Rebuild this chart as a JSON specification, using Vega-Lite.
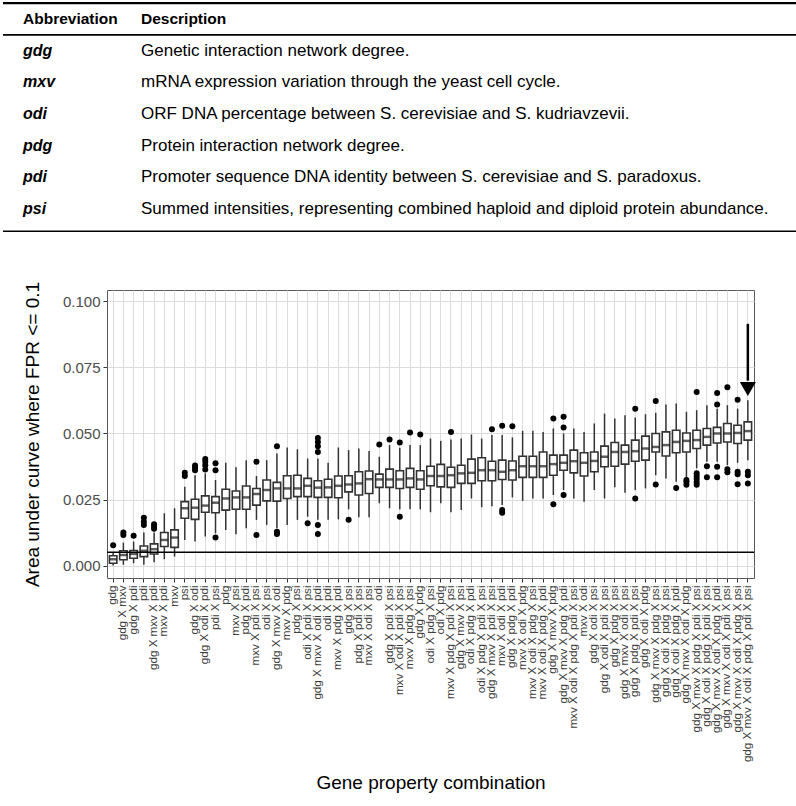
{
  "$schema": "https://vega.github.io/schema/vega-lite/v6.json",
  "padding": 0,
  "background": "white",
  "config": {
    "font": "Liberation Sans",
    "view": {"stroke": null},
    "axis": {"domain": false, "tickColor": "#333333", "labelColor": "#4d4d4d", "titleColor": "black", "titleFontWeight": "normal"}
  },
  "datasets": {
    "table": [
      {"row": "h", "a": "Abbreviation", "d": "Description"},
      {"row": "gdg", "a": "gdg", "d": "Genetic interaction network degree."},
      {"row": "mxv", "a": "mxv", "d": "mRNA expression variation through the yeast cell cycle."},
      {"row": "odi", "a": "odi", "d": "ORF DNA percentage between S. cerevisiae and S. kudriavzevii."},
      {"row": "pdg", "a": "pdg", "d": "Protein interaction network degree."},
      {"row": "pdi", "a": "pdi", "d": "Promoter sequence DNA identity between S. cerevisiae and S. paradoxus."},
      {"row": "psi", "a": "psi", "d": "Summed intensities, representing combined haploid and diploid protein abundance."}
    ],
    "stats": [
      {"c": "gdg", "lo": 0.0000, "q1": 0.0009, "md": 0.0024, "q3": 0.0037, "hi": 0.0049},
      {"c": "gdg X mxv", "lo": 0.0003, "q1": 0.0022, "md": 0.0040, "q3": 0.0056, "hi": 0.0087},
      {"c": "gdg X pdi", "lo": 0.0009, "q1": 0.0028, "md": 0.0044, "q3": 0.0057, "hi": 0.0091},
      {"c": "pdi", "lo": 0.0003, "q1": 0.0034, "md": 0.0056, "q3": 0.0074, "hi": 0.0125},
      {"c": "gdg X mxv X pdi", "lo": 0.0013, "q1": 0.0044, "md": 0.0062, "q3": 0.0082, "hi": 0.0125},
      {"c": "mxv X pdi", "lo": 0.0024, "q1": 0.0072, "md": 0.0097, "q3": 0.0125, "hi": 0.0198},
      {"c": "mxv", "lo": 0.0034, "q1": 0.0069, "md": 0.0106, "q3": 0.0135, "hi": 0.0217},
      {"c": "psi", "lo": 0.0097, "q1": 0.0179, "md": 0.0217, "q3": 0.0242, "hi": 0.0298},
      {"c": "gdg X odi", "lo": 0.0091, "q1": 0.0175, "md": 0.0219, "q3": 0.0251, "hi": 0.0342},
      {"c": "gdg X odi X pdi", "lo": 0.0110, "q1": 0.0202, "md": 0.0227, "q3": 0.0264, "hi": 0.0349},
      {"c": "pdi X psi", "lo": 0.0122, "q1": 0.0200, "md": 0.0238, "q3": 0.0261, "hi": 0.0324},
      {"c": "pdg", "lo": 0.0135, "q1": 0.0210, "md": 0.0254, "q3": 0.0289, "hi": 0.0389},
      {"c": "mxv X psi", "lo": 0.0119, "q1": 0.0213, "md": 0.0258, "q3": 0.0282, "hi": 0.0372},
      {"c": "pdg X pdi", "lo": 0.0141, "q1": 0.0213, "md": 0.0258, "q3": 0.0301, "hi": 0.0399},
      {"c": "mxv X pdi X psi", "lo": 0.0173, "q1": 0.0229, "md": 0.0271, "q3": 0.0292, "hi": 0.0339},
      {"c": "odi X psi", "lo": 0.0154, "q1": 0.0245, "md": 0.0286, "q3": 0.0324, "hi": 0.0399},
      {"c": "gdg X mxv X odi", "lo": 0.0141, "q1": 0.0244, "md": 0.0292, "q3": 0.0315, "hi": 0.0424},
      {"c": "mxv X pdg", "lo": 0.0154, "q1": 0.0254, "md": 0.0292, "q3": 0.0340, "hi": 0.0447},
      {"c": "pdg X psi", "lo": 0.0173, "q1": 0.0261, "md": 0.0292, "q3": 0.0342, "hi": 0.0440},
      {"c": "odi X pdi X psi", "lo": 0.0185, "q1": 0.0261, "md": 0.0302, "q3": 0.0330, "hi": 0.0405},
      {"c": "gdg X mxv X odi X pdi", "lo": 0.0173, "q1": 0.0258, "md": 0.0295, "q3": 0.0321, "hi": 0.0405},
      {"c": "odi X pdi", "lo": 0.0173, "q1": 0.0258, "md": 0.0296, "q3": 0.0327, "hi": 0.0389},
      {"c": "mxv X pdg X pdi", "lo": 0.0175, "q1": 0.0257, "md": 0.0302, "q3": 0.0339, "hi": 0.0447},
      {"c": "gdg X psi", "lo": 0.0213, "q1": 0.0279, "md": 0.0307, "q3": 0.0340, "hi": 0.0437},
      {"c": "pdg X pdi X psi", "lo": 0.0183, "q1": 0.0267, "md": 0.0311, "q3": 0.0355, "hi": 0.0443},
      {"c": "mxv X odi X psi", "lo": 0.0183, "q1": 0.0273, "md": 0.0327, "q3": 0.0358, "hi": 0.0434},
      {"c": "odi", "lo": 0.0236, "q1": 0.0296, "md": 0.0326, "q3": 0.0346, "hi": 0.0412},
      {"c": "gdg X pdi X psi", "lo": 0.0217, "q1": 0.0296, "md": 0.0326, "q3": 0.0365, "hi": 0.0456},
      {"c": "mxv X odi X pdi X psi", "lo": 0.0213, "q1": 0.0292, "md": 0.0326, "q3": 0.0359, "hi": 0.0446},
      {"c": "mxv X pdg X psi", "lo": 0.0213, "q1": 0.0296, "md": 0.0330, "q3": 0.0368, "hi": 0.0456},
      {"c": "gdg X pdg", "lo": 0.0213, "q1": 0.0289, "md": 0.0326, "q3": 0.0359, "hi": 0.0456},
      {"c": "odi X pdg X psi", "lo": 0.0202, "q1": 0.0302, "md": 0.0339, "q3": 0.0376, "hi": 0.0481},
      {"c": "odi X pdg", "lo": 0.0236, "q1": 0.0298, "md": 0.0339, "q3": 0.0383, "hi": 0.0472},
      {"c": "mxv X pdg X pdi X psi", "lo": 0.0202, "q1": 0.0296, "md": 0.0342, "q3": 0.0372, "hi": 0.0477},
      {"c": "gdg X mxv X psi", "lo": 0.0210, "q1": 0.0311, "md": 0.0349, "q3": 0.0380, "hi": 0.0481},
      {"c": "odi X pdg X pdi", "lo": 0.0254, "q1": 0.0311, "md": 0.0351, "q3": 0.0403, "hi": 0.0496},
      {"c": "odi X pdg X pdi X psi", "lo": 0.0221, "q1": 0.0321, "md": 0.0361, "q3": 0.0408, "hi": 0.0481},
      {"c": "gdg X mxv X pdi X psi", "lo": 0.0225, "q1": 0.0321, "md": 0.0361, "q3": 0.0395, "hi": 0.0494},
      {"c": "mxv X odi X pdi", "lo": 0.0229, "q1": 0.0326, "md": 0.0355, "q3": 0.0399, "hi": 0.0494},
      {"c": "gdg X pdg X pdi", "lo": 0.0258, "q1": 0.0324, "md": 0.0361, "q3": 0.0396, "hi": 0.0485},
      {"c": "mxv X odi X pdg", "lo": 0.0245, "q1": 0.0334, "md": 0.0376, "q3": 0.0414, "hi": 0.0510},
      {"c": "mxv X odi X pdg X psi", "lo": 0.0254, "q1": 0.0334, "md": 0.0376, "q3": 0.0414, "hi": 0.0510},
      {"c": "mxv X odi X pdg X pdi", "lo": 0.0254, "q1": 0.0334, "md": 0.0376, "q3": 0.0430, "hi": 0.0506},
      {"c": "gdg X mxv X pdg", "lo": 0.0267, "q1": 0.0342, "md": 0.0384, "q3": 0.0418, "hi": 0.0519},
      {"c": "gdg X mxv X pdg X pdi", "lo": 0.0286, "q1": 0.0361, "md": 0.0389, "q3": 0.0418, "hi": 0.0500},
      {"c": "mxv X odi X pdg X pdi X psi", "lo": 0.0254, "q1": 0.0351, "md": 0.0395, "q3": 0.0437, "hi": 0.0519},
      {"c": "mxv X odi", "lo": 0.0242, "q1": 0.0339, "md": 0.0389, "q3": 0.0427, "hi": 0.0506},
      {"c": "gdg X odi X psi", "lo": 0.0286, "q1": 0.0355, "md": 0.0396, "q3": 0.0430, "hi": 0.0538},
      {"c": "gdg X odi X pdi X psi", "lo": 0.0254, "q1": 0.0374, "md": 0.0412, "q3": 0.0452, "hi": 0.0575},
      {"c": "gdg X pdg X psi", "lo": 0.0296, "q1": 0.0376, "md": 0.0430, "q3": 0.0466, "hi": 0.0557},
      {"c": "gdg X mxv X odi X psi", "lo": 0.0276, "q1": 0.0384, "md": 0.0430, "q3": 0.0456, "hi": 0.0569},
      {"c": "gdg X pdg X pdi X psi", "lo": 0.0286, "q1": 0.0395, "md": 0.0433, "q3": 0.0475, "hi": 0.0560},
      {"c": "gdg X odi X pdg", "lo": 0.0292, "q1": 0.0399, "md": 0.0443, "q3": 0.0490, "hi": 0.0573},
      {"c": "gdg X mxv X pdg X psi", "lo": 0.0342, "q1": 0.0430, "md": 0.0449, "q3": 0.0500, "hi": 0.0578},
      {"c": "gdg X odi X pdg X psi", "lo": 0.0330, "q1": 0.0415, "md": 0.0456, "q3": 0.0506, "hi": 0.0610},
      {"c": "gdg X odi X pdg X pdi", "lo": 0.0317, "q1": 0.0427, "md": 0.0468, "q3": 0.0512, "hi": 0.0613},
      {"c": "gdg X mxv X odi X pdg", "lo": 0.0330, "q1": 0.0430, "md": 0.0472, "q3": 0.0502, "hi": 0.0582},
      {"c": "gdg X mxv X pdg X pdi X psi", "lo": 0.0368, "q1": 0.0443, "md": 0.0475, "q3": 0.0512, "hi": 0.0588},
      {"c": "gdg X odi X pdg X pdi X psi", "lo": 0.0393, "q1": 0.0456, "md": 0.0487, "q3": 0.0519, "hi": 0.0607},
      {"c": "gdg X mxv X odi X pdg X pdi", "lo": 0.0393, "q1": 0.0464, "md": 0.0500, "q3": 0.0523, "hi": 0.0594},
      {"c": "gdg X mxv X odi X pdi X psi", "lo": 0.0380, "q1": 0.0468, "md": 0.0500, "q3": 0.0538, "hi": 0.0607},
      {"c": "gdg X mxv X odi X pdg X psi", "lo": 0.0389, "q1": 0.0462, "md": 0.0502, "q3": 0.0531, "hi": 0.0594},
      {"c": "gdg X mxv X odi X pdg X pdi X psi", "lo": 0.0399, "q1": 0.0475, "md": 0.0509, "q3": 0.0544, "hi": 0.0626}
    ],
    "outliers": [
      {"c": "gdg", "v": 0.0077},
      {"c": "gdg X mxv", "v": 0.0125}, {"c": "gdg X mxv", "v": 0.0116},
      {"c": "gdg X pdi", "v": 0.0113},
      {"c": "pdi", "v": 0.0181}, {"c": "pdi", "v": 0.0166}, {"c": "pdi", "v": 0.0154},
      {"c": "gdg X mxv X pdi", "v": 0.0156}, {"c": "gdg X mxv X pdi", "v": 0.0147}, {"c": "gdg X mxv X pdi", "v": 0.0139},
      {"c": "psi", "v": 0.0351}, {"c": "psi", "v": 0.0339},
      {"c": "gdg X odi", "v": 0.0379}, {"c": "gdg X odi", "v": 0.0370}, {"c": "gdg X odi", "v": 0.0361},
      {"c": "gdg X odi X pdi", "v": 0.0403}, {"c": "gdg X odi X pdi", "v": 0.0393}, {"c": "gdg X odi X pdi", "v": 0.0380}, {"c": "gdg X odi X pdi", "v": 0.0364},
      {"c": "pdi X psi", "v": 0.0387}, {"c": "pdi X psi", "v": 0.0361}, {"c": "pdi X psi", "v": 0.0106},
      {"c": "mxv X pdi X psi", "v": 0.0393}, {"c": "mxv X pdi X psi", "v": 0.0116},
      {"c": "gdg X mxv X odi", "v": 0.0452}, {"c": "gdg X mxv X odi", "v": 0.0128}, {"c": "gdg X mxv X odi", "v": 0.0120},
      {"c": "odi X pdi X psi", "v": 0.0160},
      {"c": "gdg X mxv X odi X pdi", "v": 0.0483}, {"c": "gdg X mxv X odi X pdi", "v": 0.0468}, {"c": "gdg X mxv X odi X pdi", "v": 0.0452}, {"c": "gdg X mxv X odi X pdi", "v": 0.0430}, {"c": "gdg X mxv X odi X pdi", "v": 0.0154}, {"c": "gdg X mxv X odi X pdi", "v": 0.0120},
      {"c": "gdg X psi", "v": 0.0173},
      {"c": "odi", "v": 0.0458},
      {"c": "gdg X pdi X psi", "v": 0.0477},
      {"c": "mxv X odi X pdi X psi", "v": 0.0466}, {"c": "mxv X odi X pdi X psi", "v": 0.0185},
      {"c": "mxv X pdg X psi", "v": 0.0504},
      {"c": "gdg X pdg", "v": 0.0496},
      {"c": "mxv X pdg X pdi X psi", "v": 0.0506},
      {"c": "gdg X mxv X pdi X psi", "v": 0.0516},
      {"c": "mxv X odi X pdi", "v": 0.0529}, {"c": "mxv X odi X pdi", "v": 0.0210}, {"c": "mxv X odi X pdi", "v": 0.0200},
      {"c": "gdg X pdg X pdi", "v": 0.0527},
      {"c": "gdg X mxv X pdg", "v": 0.0557}, {"c": "gdg X mxv X pdg", "v": 0.0232},
      {"c": "gdg X mxv X pdg X pdi", "v": 0.0563}, {"c": "gdg X mxv X pdg X pdi", "v": 0.0523}, {"c": "gdg X mxv X pdg X pdi", "v": 0.0267},
      {"c": "gdg X pdg X pdi X psi", "v": 0.0594}, {"c": "gdg X pdg X pdi X psi", "v": 0.0254},
      {"c": "gdg X mxv X pdg X psi", "v": 0.0623}, {"c": "gdg X mxv X pdg X psi", "v": 0.0307},
      {"c": "gdg X odi X pdg X pdi", "v": 0.0294},
      {"c": "gdg X mxv X odi X pdg", "v": 0.0324}, {"c": "gdg X mxv X odi X pdg", "v": 0.0316}, {"c": "gdg X mxv X odi X pdg", "v": 0.0306},
      {"c": "gdg X mxv X pdg X pdi X psi", "v": 0.0657}, {"c": "gdg X mxv X pdg X pdi X psi", "v": 0.0349}, {"c": "gdg X mxv X pdg X pdi X psi", "v": 0.0339}, {"c": "gdg X mxv X pdg X pdi X psi", "v": 0.0329}, {"c": "gdg X mxv X pdg X pdi X psi", "v": 0.0316}, {"c": "gdg X mxv X pdg X pdi X psi", "v": 0.0306},
      {"c": "gdg X odi X pdg X pdi X psi", "v": 0.0376}, {"c": "gdg X odi X pdg X pdi X psi", "v": 0.0334},
      {"c": "gdg X mxv X odi X pdg X pdi", "v": 0.0653}, {"c": "gdg X mxv X odi X pdg X pdi", "v": 0.0610}, {"c": "gdg X mxv X odi X pdg X pdi", "v": 0.0374}, {"c": "gdg X mxv X odi X pdg X pdi", "v": 0.0334},
      {"c": "gdg X mxv X odi X pdi X psi", "v": 0.0675}, {"c": "gdg X mxv X odi X pdi X psi", "v": 0.0365}, {"c": "gdg X mxv X odi X pdi X psi", "v": 0.0353},
      {"c": "gdg X mxv X odi X pdg X psi", "v": 0.0628}, {"c": "gdg X mxv X odi X pdg X psi", "v": 0.0355}, {"c": "gdg X mxv X odi X pdg X psi", "v": 0.0346}, {"c": "gdg X mxv X odi X pdg X psi", "v": 0.0308},
      {"c": "gdg X mxv X odi X pdg X pdi X psi", "v": 0.0355}, {"c": "gdg X mxv X odi X pdg X pdi X psi", "v": 0.0342}, {"c": "gdg X mxv X odi X pdg X pdi X psi", "v": 0.0311}
    ],
    "arrow": [
      {"c": "gdg X mxv X odi X pdg X pdi X psi", "top": 0.0915, "base": 0.0700, "head": 0.0668}
    ]
  },
  "spacing": 48,
  "vconcat": [
    {
      "width": 796,
      "height": 228,
      "data": {"name": "table"},
      "transform": [{"fold": ["a", "d"], "as": ["col", "txt"]}],
      "encoding": {
        "x": {"field": "col", "type": "nominal", "scale": {"type": "point", "domain": ["a", "d"], "range": [20, 138], "padding": 0}, "axis": null},
        "y": {"field": "row", "type": "nominal", "scale": {"type": "band", "domain": ["h", "gdg", "mxv", "odi", "pdg", "pdi", "psi"], "paddingInner": 0, "paddingOuter": 0.1}, "axis": null},
        "text": {"field": "txt"}
      },
      "layer": [
        {"transform": [{"filter": "datum.row === 'h'"}], "mark": {"type": "text", "align": "left", "baseline": "middle", "fontWeight": "bold", "fontSize": 15.5, "color": "black"}},
        {"transform": [{"filter": "datum.row !== 'h' && datum.col === 'a'"}], "mark": {"type": "text", "align": "left", "baseline": "middle", "fontWeight": "bold", "fontStyle": "italic", "fontSize": 16, "color": "black"}},
        {"transform": [{"filter": "datum.row !== 'h' && datum.col === 'd'"}], "mark": {"type": "text", "align": "left", "baseline": "middle", "fontSize": 17, "color": "black"}},
        {"data": {"values": [{}]}, "transform": [], "mark": {"type": "rule", "color": "black", "strokeWidth": 2.2}, "encoding": {"x": null, "text": null, "y": {"datum": "h", "type": "nominal", "bandPosition": 0}}},
        {"data": {"values": [{}]}, "transform": [], "mark": {"type": "rule", "color": "black", "strokeWidth": 1.8}, "encoding": {"x": null, "text": null, "y": {"datum": "h", "type": "nominal", "bandPosition": 1}}},
        {"data": {"values": [{}]}, "transform": [], "mark": {"type": "rule", "color": "black", "strokeWidth": 1.5}, "encoding": {"x": null, "text": null, "y": {"datum": "psi", "type": "nominal", "bandPosition": 1.2}}}
      ]
    },
    {
      "spacing": 15,
      "hconcat": [
        {"width": 1, "height": 1, "data": {"values": [{}]}, "mark": {"type": "point", "opacity": 0}, "encoding": {}},
        {
          "width": 647,
          "height": 288,
          "view": {"stroke": "#595959", "strokeWidth": 1},
          "layer": [
            {
              "encoding": {
                "x": {
                  "field": "c", "type": "nominal",
                  "scale": {"paddingInner": 0, "paddingOuter": 0.1, "domain": ["gdg", "gdg X mxv", "gdg X pdi", "pdi", "gdg X mxv X pdi", "mxv X pdi", "mxv", "psi", "gdg X odi", "gdg X odi X pdi", "pdi X psi", "pdg", "mxv X psi", "pdg X pdi", "mxv X pdi X psi", "odi X psi", "gdg X mxv X odi", "mxv X pdg", "pdg X psi", "odi X pdi X psi", "gdg X mxv X odi X pdi", "odi X pdi", "mxv X pdg X pdi", "gdg X psi", "pdg X pdi X psi", "mxv X odi X psi", "odi", "gdg X pdi X psi", "mxv X odi X pdi X psi", "mxv X pdg X psi", "gdg X pdg", "odi X pdg X psi", "odi X pdg", "mxv X pdg X pdi X psi", "gdg X mxv X psi", "odi X pdg X pdi", "odi X pdg X pdi X psi", "gdg X mxv X pdi X psi", "mxv X odi X pdi", "gdg X pdg X pdi", "mxv X odi X pdg", "mxv X odi X pdg X psi", "mxv X odi X pdg X pdi", "gdg X mxv X pdg", "gdg X mxv X pdg X pdi", "mxv X odi X pdg X pdi X psi", "mxv X odi", "gdg X odi X psi", "gdg X odi X pdi X psi", "gdg X pdg X psi", "gdg X mxv X odi X psi", "gdg X pdg X pdi X psi", "gdg X odi X pdg", "gdg X mxv X pdg X psi", "gdg X odi X pdg X psi", "gdg X odi X pdg X pdi", "gdg X mxv X odi X pdg", "gdg X mxv X pdg X pdi X psi", "gdg X odi X pdg X pdi X psi", "gdg X mxv X odi X pdg X pdi", "gdg X mxv X odi X pdi X psi", "gdg X mxv X odi X pdg X psi", "gdg X mxv X odi X pdg X pdi X psi"]},
                  "axis": {
                    "grid": true, "gridColor": "#dcdcdc", "gridWidth": 1, "bandPosition": 0.5,
                    "labelAngle": 270, "labelFontSize": 11.6, "labelColor": "#404040", "labelPadding": 3,
                    "labelOverlap": false, "labelLimit": 400, "tickSize": 4, "tickColor": "#333333",
                    "title": "Gene property combination", "titleFontSize": 19, "titlePadding": 12
                  }
                }
              },
              "layer": [
                {"data": {"name": "stats"}, "mark": {"type": "rule", "color": "#333333", "strokeWidth": 1.5},
                 "encoding": {
                   "y": {"field": "lo", "type": "quantitative", "title": "Area under curve where FPR <= 0.1",
                     "scale": {"domain": [-0.0047, 0.1043], "nice": false, "zero": false},
                     "axis": {
                       "values": [0, 0.0125, 0.025, 0.0375, 0.05, 0.0625, 0.075, 0.0875, 0.1],
                       "labelExpr": "abs(datum.value*40 - round(datum.value*40)) > 0.01 ? '' : format(datum.value, '.3f')",
                       "grid": true, "gridColor": "#dcdcdc",
                       "gridWidth": {"condition": {"test": "abs(datum.value*40 - round(datum.value*40)) > 0.01", "value": 0.7}, "value": 1.2},
                       "tickOpacity": {"condition": {"test": "abs(datum.value*40 - round(datum.value*40)) > 0.01", "value": 0}, "value": 1},
                       "tickSize": 4, "tickColor": "#333333", "labelFontSize": 15, "labelPadding": 3, "labelColor": "#4d4d4d",
                       "titleFontSize": 19, "titlePadding": 20
                     }},
                   "y2": {"field": "hi"}
                 }},
                {"data": {"name": "stats"}, "mark": {"type": "bar", "fill": "white", "stroke": "#333333", "strokeWidth": 1.6, "width": {"band": 0.73}},
                 "encoding": {
                   "y": {"field": "q1", "type": "quantitative", "title": "Area under curve where FPR <= 0.1", "scale": {"domain": [-0.0047, 0.1043], "nice": false, "zero": false}},
                   "y2": {"field": "q3"}
                 }},
                {"data": {"name": "stats"}, "mark": {"type": "tick", "color": "#1a1a1a", "thickness": 2.5, "size": 7.5},
                 "encoding": {
                   "y": {"field": "md", "type": "quantitative", "title": "Area under curve where FPR <= 0.1", "scale": {"domain": [-0.0047, 0.1043], "nice": false, "zero": false}}
                 }},
                {"data": {"name": "outliers"}, "mark": {"type": "point", "filled": true, "color": "black", "size": 36, "opacity": 1},
                 "encoding": {
                   "y": {"field": "v", "type": "quantitative", "title": "Area under curve where FPR <= 0.1", "scale": {"domain": [-0.0047, 0.1043], "nice": false, "zero": false}}
                 }},
                {"data": {"name": "arrow"}, "mark": {"type": "rule", "color": "black", "strokeWidth": 2.5},
                 "encoding": {
                   "y": {"field": "top", "type": "quantitative", "title": "Area under curve where FPR <= 0.1", "scale": {"domain": [-0.0047, 0.1043], "nice": false, "zero": false}},
                   "y2": {"field": "base"}
                 }},
                {"data": {"name": "arrow"}, "mark": {"type": "point", "shape": "triangle-down", "filled": true, "color": "black", "size": 260, "opacity": 1},
                 "encoding": {
                   "y": {"field": "head", "type": "quantitative", "title": "Area under curve where FPR <= 0.1", "scale": {"domain": [-0.0047, 0.1043], "nice": false, "zero": false}}
                 }}
              ]
            },
            {"data": {"values": [{}]}, "mark": {"type": "rule", "color": "black", "strokeWidth": 1.5},
             "encoding": {"y": {"datum": 0.005, "type": "quantitative", "scale": {"domain": [-0.0047, 0.1043], "nice": false, "zero": false}}}}
          ]
        }
      ]
    }
  ]
}
